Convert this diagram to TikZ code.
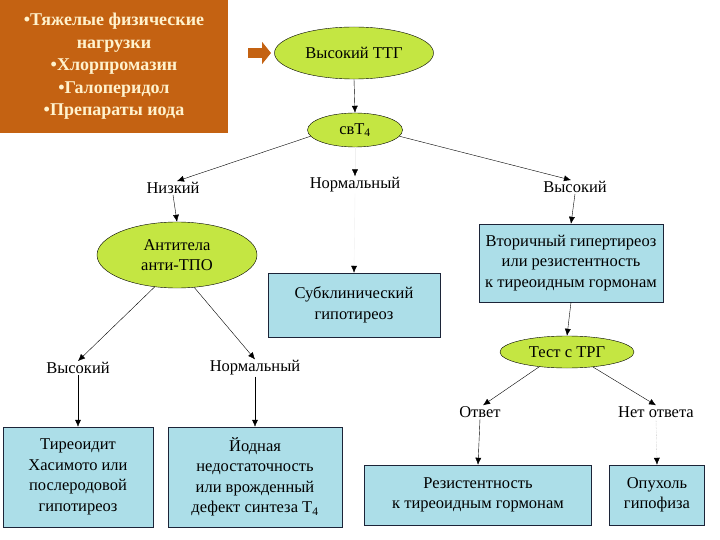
\documentclass[tikz,border=0pt]{standalone}
\usepackage{fontspec}
\setmainfont{Liberation Serif}
\usepackage{xcolor}
\usepackage{tikz}
\usetikzlibrary{positioning, arrows.meta, calc, shapes.geometric}
\definecolor{orng}{RGB}{196,98,18}
\definecolor{cream}{RGB}{255,242,205}
\definecolor{lime}{RGB}{196,230,66}
\definecolor{aqua}{RGB}{172,222,232}
\definecolor{navy}{RGB}{28,36,56}
\tikzset{
  arr/.style={-{Latex[length=7pt,width=6pt]}, thin, draw=black},
  farr/.style={-{Latex[length=7pt,width=6pt,color=black]}, thin, draw=black!6},
  darr/.style={-{Latex[length=7pt,width=6pt,color=black]}, thin, draw=black!35, densely dotted},
  oval/.style={ellipse, draw=black, thin, fill=lime, inner sep=0pt, align=center},
  res/.style={draw=navy, thin, fill=aqua, align=center, inner sep=2pt},
  lab/.style={align=center, inner sep=1pt}
}

\begin{document}
\begin{tikzpicture}[x=1pt, y=-1pt, font=\fontsize{16.5}{20.5}\selectfont,
  cause/.style={fill=orng, text=cream, align=center, inner sep=0pt,
                font=\fontsize{18}{22.5}\selectfont\bfseries},
  block/.style={-{Triangle[length=9pt,width=22pt]}, line width=10pt, draw=orng}]
\useasboundingbox (0,0) rectangle (720,540);
% ---- causes (top left) ----
\node[cause, minimum width=228pt, minimum height=133pt] (risk) at (114,66.5)
  {\textbullet Тяжелые физические\\нагрузки\\\textbullet Хлорпромазин\\\textbullet Галоперидол\\\textbullet Препараты иода};
\coordinate (bs) at (248,53);
\coordinate (be) at (271,53);
\draw[block] (bs) -- (be);
% ---- main line ----
\node[oval, minimum width=159pt, minimum height=52pt] (tsh) at (354,53) {Высокий ТТГ};
\node[oval, minimum width=95pt, minimum height=34pt] (ft4) at (355,130) {свТ\textsubscript{4}};
\node[lab] (low) at (173,188) {Низкий};
\node[lab] (norm) at (355,185) {Нормальный};
\node[lab] (high) at (575,187) {Высокий};
\node[oval, minimum width=160pt, minimum height=66pt] (atpo) at (177,255) {Антитела\\анти-ТПО};
\node[res, minimum width=172pt, minimum height=64pt] (subc) at (354,305) {Субклинический\\гипотиреоз};
\node[res, minimum width=184pt, minimum height=78pt] (sec) at (571,263)
  {Вторичный гипертиреоз\\или резистентность\\к тиреоидным гормонам};
\node[oval, minimum width=134pt, minimum height=32pt] (trh) at (567,352) {Тест с ТРГ};
% ---- lower labels ----
\node[lab] (athigh) at (78,368) {Высокий};
\node[lab] (atnorm) at (255,368) {Нормальный};
\node[lab] (resp) at (480,412) {Ответ};
\node[lab] (noresp) at (656,412) {Нет ответа};
% ---- results ----
\node[res, minimum width=150pt, minimum height=100pt] (hash) at (78,477)
  {Тиреоидит\\Хасимото или\\послеродовой\\гипотиреоз};
\node[res, minimum width=174pt, minimum height=100pt] (iod) at (255,477)
  {Йодная\\недостаточность\\или врожденный\\дефект синтеза Т\textsubscript{4}};
\node[res, minimum width=227pt, minimum height=60pt] (resist) at (478,495)
  {Резистентность\\к тиреоидным гормонам};
\node[res, minimum width=95pt, minimum height=60pt] (tumor) at (657,495) {Опухоль\\гипофиза};
% ---- connectors ----
\draw[arr] (tsh.south) -- (ft4.north);
\draw[arr] (ft4.188) -- ([xshift=4pt]low.north);
\draw[farr] (ft4.south) -- (norm.north);
\draw[arr] (ft4.-8) -- ([xshift=-4pt]high.north);
\draw[arr] (low.south) -- (atpo.north);
\draw[farr] (norm.south) -- (subc.north);
\draw[arr] (high.south) -- (sec.north);
\draw[arr] (atpo.235) -- (athigh.north);
\draw[arr] (atpo.-62) -- (atnorm.north);
\draw[arr] (athigh.south) -- (hash.north);
\draw[arr] (atnorm.south) -- (iod.north);
\draw[arr] (sec.south) -- (trh.north);
\draw[arr] (trh.208) -- ([xshift=3pt]resp.north);
\draw[arr] (trh.-30) -- (noresp.north);
\draw[arr] (resp.south) -- (resist.north);
\draw[darr] (noresp.south) -- (tumor.north);
\end{tikzpicture}
\end{document}
